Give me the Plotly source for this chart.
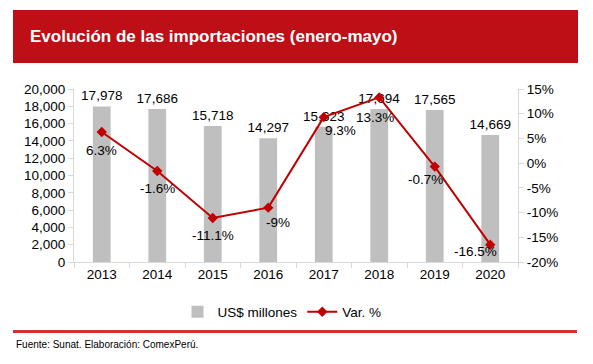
import plotly.graph_objects as go

years = ["2013", "2014", "2015", "2016", "2017", "2018", "2019", "2020"]
imports_musd = [17978, 17686, 15718, 14297, 15623, 17694, 17565, 14669]
var_pct = [6.3, -1.6, -11.1, -9, 9.3, 13.3, -0.7, -16.5]
left_ticks = [0, 2000, 4000, 6000, 8000, 10000, 12000, 14000, 16000, 18000, 20000]
right_ticks = [-20, -15, -10, -5, 0, 5, 10, 15]

W, H = 593, 364
L, R, T, B = 74, 518, 89, 262  # plot area in pixels


def px(x):
    return (x - L) / (R - L)


def py(y):
    return (B - y) / (B - T)


FONT = "Liberation Sans, Arial, sans-serif"
AXIS_COLOR = "#D9D9D9"
LINE_RED = "#C00000"

fig = go.Figure()
fig.add_trace(go.Bar(
    x=years, y=imports_musd, name="US$ millones",
    marker=dict(color="#BFBFBF", line=dict(width=0)),
    width=0.32,
    text=[f"{v:,}" for v in imports_musd], textposition="outside",
    constraintext="none",
    textfont=dict(size=13.5, color="#000000", family=FONT),
    cliponaxis=False,
))
fig.add_trace(go.Scatter(
    x=years, y=var_pct, name="Var. %", yaxis="y2", mode="lines+markers",
    line=dict(color=LINE_RED, width=2),
    marker=dict(symbol="diamond", size=8, color=LINE_RED),
    cliponaxis=False,
))

# label offsets (dx, dy) in pixels relative to each marker
label_offsets = [(0, 18), (0, 17), (0, 17), (10, 15), (17, 13), (-4, 20), (-9, 13), (-15, 7)]
annotations = []
for i, (v, (dx, dy)) in enumerate(zip(var_pct, label_offsets)):
    annotations.append(dict(
        x=i, y=v, xref="x", yref="y2", text=f"{v:g}%", showarrow=False,
        xshift=dx, yshift=-dy, font=dict(size=13.5, color="#000000", family=FONT),
    ))

annotations.append(dict(
    x=px(28), y=py(37), xref="paper", yref="paper", xanchor="left", yanchor="middle",
    text="<b>Evolución de las importaciones (enero-mayo)</b>", showarrow=False,
    font=dict(size=17, color="#FFFFFF", family=FONT),
))
annotations.append(dict(
    x=px(14), y=py(344), xref="paper", yref="paper", xanchor="left", yanchor="middle",
    text="Fuente: Sunat. Elaboración: ComexPerú.", showarrow=False,
    font=dict(size=10, color="#000000", family=FONT),
))

shapes = [
    dict(type="rect", xref="paper", yref="paper", x0=px(13), x1=px(578), y0=py(63), y1=py(10),
         fillcolor="#BE0F17", line=dict(width=0), layer="below"),
    dict(type="line", xref="paper", yref="paper", x0=px(13), x1=px(577), y0=py(331.5), y1=py(331.5),
         line=dict(color="#D42E3A", width=3)),
]

fig.update_layout(
    width=W, height=H,
    margin=dict(l=L, r=W - R, t=T, b=H - B, pad=0),
    paper_bgcolor="#FFFFFF", plot_bgcolor="#FFFFFF",
    font=dict(family=FONT, size=13, color="#000000"),
    showlegend=True,
    legend=dict(orientation="h", x=px(282), y=py(312), xanchor="center", yanchor="middle",
                font=dict(size=13.5, family=FONT), traceorder="normal"),
    xaxis=dict(
        type="category", range=[-0.5, len(years) - 0.5], autorange=False,
        showline=True, linecolor=AXIS_COLOR, linewidth=1,
        ticks="outside", tickson="boundaries", ticklen=5, tickcolor=AXIS_COLOR,
        showgrid=False, tickfont=dict(size=13.5), tickangle=0,
    ),
    yaxis=dict(
        range=[0, 20000], tickvals=left_ticks, ticktext=[f"{v:,}" for v in left_ticks],
        showline=True, linecolor=AXIS_COLOR, linewidth=1, ticks="outside", ticklen=5,
        tickcolor=AXIS_COLOR, showgrid=False, zeroline=False, tickfont=dict(size=13.5),
    ),
    yaxis2=dict(
        range=[-20, 15], overlaying="y", side="right", tickvals=right_ticks,
        ticktext=[f"{v}%" for v in right_ticks],
        showline=True, linecolor=AXIS_COLOR, linewidth=1, ticks="outside", ticklen=5,
        tickcolor=AXIS_COLOR, showgrid=False, zeroline=False, tickfont=dict(size=13.5),
    ),
    annotations=annotations,
    shapes=shapes,
)

fig.write_html("out.html", config={"displayModeBar": False},
               post_script="document.body.style.margin='0';")
